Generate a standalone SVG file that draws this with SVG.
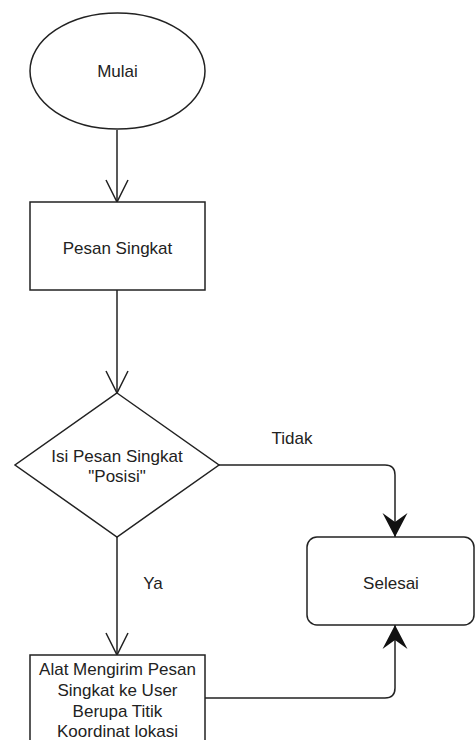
<svg xmlns="http://www.w3.org/2000/svg" width="475" height="740" viewBox="0 0 475 740">
<style>
.s{fill:#fff;stroke:#222;stroke-width:1.5}
.t{font-family:"Liberation Sans",Arial,sans-serif;font-size:17px;fill:#222;text-anchor:middle;dominant-baseline:central}
.c{fill:none;stroke:#222;stroke-width:1.5}
.o{fill:none;stroke:#222;stroke-width:1.5}
</style>
<defs>
<marker id="filled" markerWidth="26" markerHeight="26" viewBox="0 0 26 26" refX="24" refY="13" orient="auto" markerUnits="userSpaceOnUse">
<path d="M0,0.5 L24,13 L0,25.5 L9,13 Z" fill="#111"/>
</marker>
</defs>
<rect width="475" height="740" fill="#fff"/>
<g id="connectors">
<path class="c" d="M117,130 V202"/>
<path class="o" d="M106,180 L117,202 L128,180"/>
<path class="c" d="M117,290 V393"/>
<path class="o" d="M106,371 L117,393 L128,371"/>
<path class="c" d="M219,465 H385 Q395,465 395,475 V537" marker-end="url(#filled)"/>
<path class="c" d="M117,537 V655"/>
<path class="o" d="M106,633 L117,655 L128,633"/>
<path class="c" d="M205,698 H385 Q395,698 395,688 V625" marker-end="url(#filled)"/>
<text class="t" x="292" y="438">Tidak</text>
<text class="t" x="153" y="583">Ya</text>
</g>
<g id="mulai">
<ellipse class="s" cx="117.5" cy="71" rx="87.5" ry="58"/>
<text class="t" x="117.5" y="71">Mulai</text>
</g>
<g id="pesan">
<rect class="s" x="30" y="202" width="175" height="88"/>
<text class="t" x="117.5" y="248">Pesan Singkat</text>
</g>
<g id="decision">
<polygon class="s" points="117,393 219,465 117,537 15,465"/>
<text class="t" x="117" y="456">Isi Pesan Singkat</text>
<text class="t" x="117" y="476">"Posisi"</text>
</g>
<g id="selesai">
<rect class="s" x="307" y="537" width="167" height="88" rx="10"/>
<text class="t" x="391" y="583">Selesai</text>
</g>
<g id="kirim">
<rect class="s" x="30" y="655" width="175" height="100"/>
<text class="t" x="117.5" y="669">Alat Mengirim Pesan</text>
<text class="t" x="117.5" y="690">Singkat ke User</text>
<text class="t" x="117.5" y="711">Berupa Titik</text>
<text class="t" x="117.5" y="731">Koordinat lokasi</text>
</g>
</svg>
